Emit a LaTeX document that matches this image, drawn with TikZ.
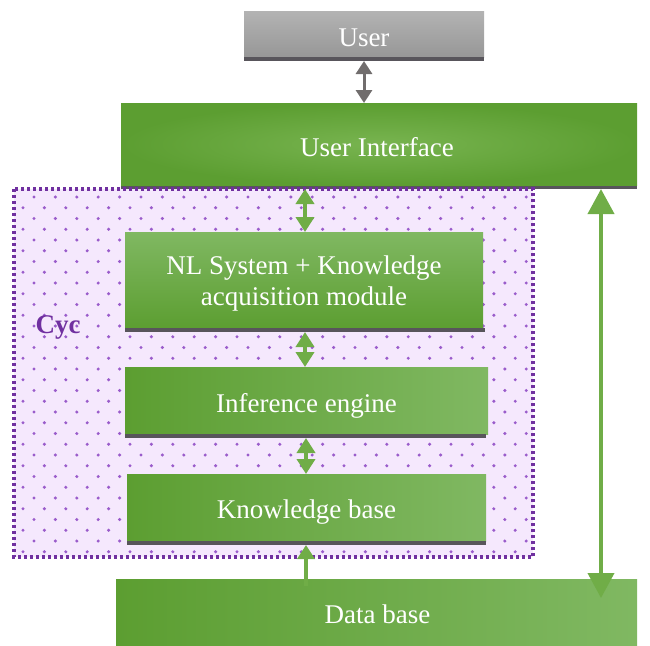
\documentclass[tikz,border=0pt]{standalone}
\usepackage{fontspec}
\setmainfont{Liberation Serif}
\usetikzlibrary{arrows.meta}
\definecolor{gdark}{HTML}{5C9E31}
\definecolor{glight}{HTML}{80B862}
\definecolor{gmid}{HTML}{78B450}
\definecolor{garrow}{HTML}{70AD47}
\definecolor{cycpurple}{HTML}{7030A0}
\definecolor{cycfill}{HTML}{F5E8FD}
\definecolor{dotc}{HTML}{9A5CCB}
\definecolor{stripc}{HTML}{58555B}
\definecolor{grayarrow}{HTML}{716D6D}
\definecolor{usertop}{HTML}{B3B3B3}
\definecolor{userbot}{HTML}{979797}
\begin{document}
\begin{tikzpicture}[x=1pt,y=-1pt,
  box/.style={inner sep=0pt, outer sep=0pt},
  txt/.style={inner sep=0pt, text=white, align=center,
    font=\fontsize{27}{32}\selectfont},
  hbox/.style={box, left color=gdark, right color=glight},
  vbox/.style={box, top color=glight, bottom color=gdark},
  rbox/.style={box, inner color=gmid, outer color=gdark},
  stripbox/.style={fill=stripc, draw=none},
  garr/.style={draw=garrow, line width=4pt,
    {Triangle[width=18pt,length=15pt]}-{Triangle[width=18pt,length=15pt]}},
  bigarr/.style={draw=garrow, line width=4pt,
    {Triangle[width=26pt,length=25pt]}-{Triangle[width=26pt,length=25pt]}},
  uparr/.style={draw=garrow, line width=4pt, -{Triangle[width=17pt,length=14pt]}},
  grayarr/.style={draw=grayarrow, line width=3pt,
    {Triangle[width=16pt,length=13pt]}-{Triangle[width=16pt,length=13pt]}}
]
\useasboundingbox (0,0) rectangle (650,645);

% Cyc region background with dots
\fill[cycfill] (14,189) rectangle (533,557);
\begin{scope}
  \clip (16,191) rectangle (531,555);
  \foreach \k in {0,...,17} {
    \foreach \i in {0,...,25} {
      \fill[dotc] (12.6+21.4*\i, 197+21.5*\k) circle (1.7);
      \fill[dotc] (1.6+21.4*\i, 207.75+21.5*\k) circle (1.7);
    }
  }
\end{scope}

% User
\node[box, top color=usertop, bottom color=userbot, minimum width=240pt, minimum height=46pt]
  (user) at (364,34) {};
\fill[stripbox] (user.south west) rectangle ([yshift=-4pt]user.south east);
\node[txt] (usertxt) at ([yshift=-4pt]user.center) {User};

% User Interface
\fill[stripc] (121,185) rectangle (637,189);
\node[rbox, minimum width=516pt, minimum height=82pt] (ui) at (379,144) {};
\node[txt] (uitxt) at ([xshift=-2pt,yshift=-3pt]ui.center) {User Interface};

% NL System
\node[vbox, minimum width=358pt, minimum height=96pt] (nl) at (304,280) {};
\fill[stripbox] (nl.south west) rectangle ([xshift=2pt,yshift=-4pt]nl.south east);
\node[txt] (nltxt) at ([yshift=-3.5pt]nl.center) {NL System + Knowledge\\[-1pt]acquisition module};

% Inference engine
\node[hbox, minimum width=363pt, minimum height=67pt] (inf) at (306.5,400.5) {};
\fill[stripbox] (inf.south west) rectangle ([xshift=-2pt,yshift=-4pt]inf.south east);
\node[txt] (inftxt) at ([yshift=-5pt]inf.center) {Inference engine};

% Knowledge base
\node[hbox, minimum width=359pt, minimum height=67pt] (kb) at (306.5,507.5) {};
\fill[stripbox] (kb.south west) rectangle ([yshift=-4pt]kb.south east);
\node[txt] (kbtxt) at ([yshift=-4.5pt]kb.center) {Knowledge base};

% Data base
\node[hbox, minimum width=521pt, minimum height=66pt] (db) at (376.5,612) {};
\node[txt] (dbtxt) at ([xshift=1pt,yshift=-2.5pt]db.center) {Data base};

% Cyc border and label
\draw[cycpurple, line width=3.5pt, dash pattern=on 3pt off 3pt] (14,189) rectangle (533,557);
\node[text=cycpurple, inner sep=0pt, font=\fontsize{27}{30}\selectfont\bfseries] (cyc) at (58,327) {Cyc};

% Connectors
\coordinate (uibot) at ([yshift=-4pt]ui.south);
\coordinate (dbtip) at (601,598);
\draw[grayarr] ([yshift=-4pt]user.south) -- (user.south |- ui.north);
\draw[garr] (305,189) -- (nl.north -| 305,0);
\draw[garr] ([yshift=-4pt]nl.south -| 305,0) -- (inf.north -| 305,0);
\draw[garr] ([yshift=-4pt]inf.south -| 306,0) -- (kb.north -| 306,0);
\draw[uparr] ([yshift=-7pt]db.north -| 306,0) -- ([yshift=-4pt]kb.south -| 306,0);
\draw[bigarr] (uibot -| dbtip) -- (dbtip);
\end{tikzpicture}
\end{document}
